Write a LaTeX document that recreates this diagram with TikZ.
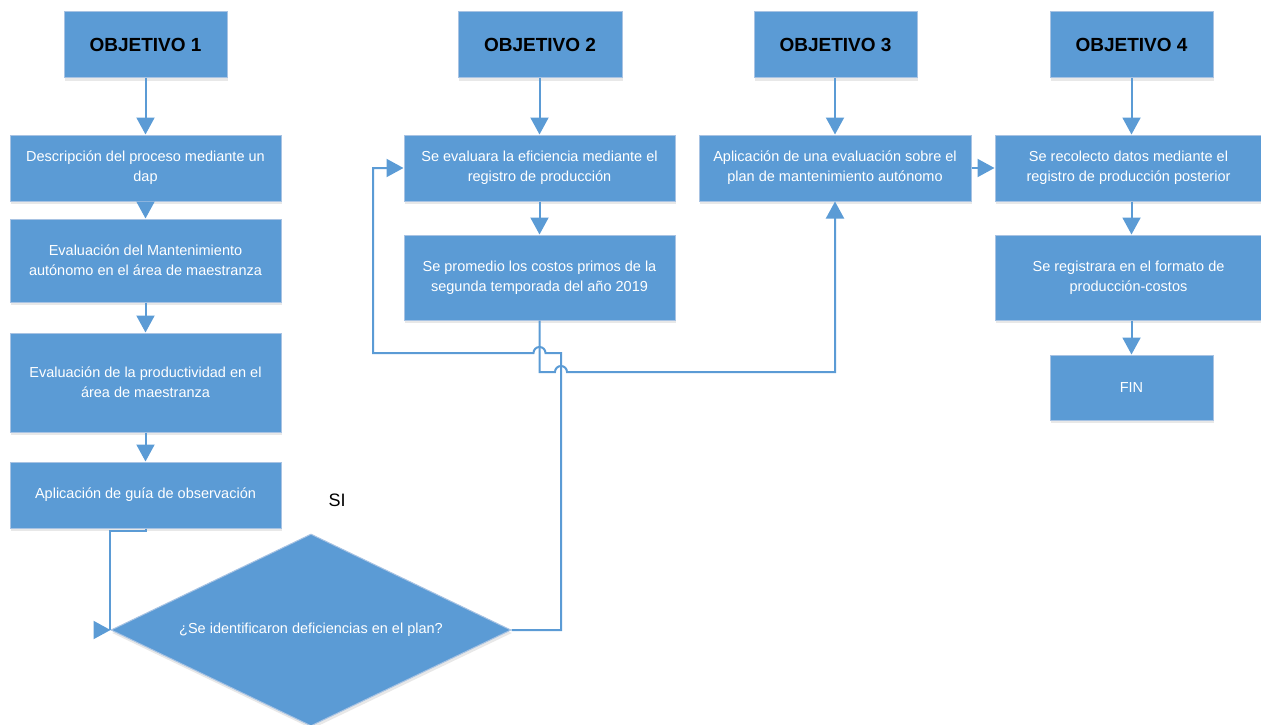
\documentclass[tikz,border=0pt]{standalone}
\usepackage{fontspec}
\setmainfont{Liberation Sans}
\usetikzlibrary{arrows.meta,shapes.geometric,shadows}
\definecolor{azul}{HTML}{5B9BD5}
\definecolor{borde}{HTML}{A8C3E3}

\begin{document}
\begin{tikzpicture}[x=1pt,y=1pt,
    caja/.style={rectangle,fill=azul,draw=borde,line width=1pt,text=white,align=center,
        inner sep=2pt,font=\fontsize{14.5}{20}\selectfont,
        drop shadow={opacity=0.18,shadow xshift=1pt,shadow yshift=-3pt}},
    titulo/.style={caja,text=black,font=\fontsize{19}{22}\selectfont\bfseries},
    flecha/.style={draw=azul,line width=2pt,-{Triangle[width=18pt,length=17pt]}},
    linea/.style={draw=azul,line width=2pt}]
    \useasboundingbox (0,0) rectangle (1261,-725);

    % Dibuja los objetivos
    \node[titulo,minimum width=163,minimum height=66] (o1) at (145.5,-45) {OBJETIVO 1};
    \node[titulo,minimum width=164,minimum height=66] (o2) at (540,-45) {OBJETIVO 2};
    \node[titulo,minimum width=163,minimum height=66] (o3) at (835.5,-45) {OBJETIVO 3};
    \node[titulo,minimum width=163,minimum height=66] (o4) at (1131.5,-45) {OBJETIVO 4};

    % Dibuja las cajas del objetivo 1
    \node[caja,minimum width=271,minimum height=66] (d1) at (145.5,-168) {Descripción del proceso mediante un\\dap};
    \node[caja,minimum width=271,minimum height=83] (d2) at (145.5,-260.5) {Evaluación del Mantenimiento\\autónomo en el área de maestranza};
    \node[caja,minimum width=271,minimum height=99] (d3) at (145.5,-382.5) {Evaluación de la productividad en el\\área de maestranza};
    \node[caja,minimum width=271,minimum height=66] (d4) at (145.5,-495) {Aplicación de guía de observación};
    \node[caja,diamond,minimum width=400,minimum height=192,aspect=2.08,inner sep=0pt] (dec) at (311,-630) {¿Se identificaron deficiencias en el plan?};
    \node[font=\fontsize{18}{20}\selectfont] (si) at (337,-500) {SI};

    % Dibuja las cajas de los objetivos 2, 3 y 4
    \node[caja,minimum width=271,minimum height=66] (e1) at (539.5,-168) {Se evaluara la eficiencia mediante el\\registro de producción};
    \node[caja,minimum width=271,minimum height=85] (e2) at (539.5,-277.5) {Se promedio los costos primos de la\\segunda temporada del año 2019};
    \node[caja,minimum width=272,minimum height=66] (f1) at (835,-168) {Aplicación de una evaluación sobre el\\plan de mantenimiento autónomo};
    \node[caja,minimum width=267,minimum height=66] (g1) at (1128.5,-168) {Se recolecto datos mediante el\\registro de producción posterior};
    \node[caja,minimum width=267,minimum height=85] (g2) at (1128.5,-277.5) {Se registrara en el formato de\\producción-costos};
    \node[caja,minimum width=163,minimum height=65] (fin) at (1131.5,-387.5) {FIN};

    % Dibuja las flechas
    \draw[flecha] (o1) -- (d1);
    \draw[flecha] (d1) -- (d2);
    \draw[flecha] (d2) -- (d3);
    \draw[flecha] (d3) -- (d4);
    \draw[flecha] (e1.south |- o2.south) -- (e1.north);
    \draw[flecha] (e1) -- (e2);
    \draw[flecha] (f1.south |- o3.south) -- (f1.north);
    \draw[flecha] (f1) -- (g1);
    \draw[flecha] (o4.south) -- (o4.south |- g1.north);
    \draw[flecha] (g1.south -| o4.south) -- (g2.north -| o4.south);
    \draw[flecha] (g2.south -| fin.north) -- (fin);

    % Dibuja los lazos
    \coordinate (codo) at (110,-630);
    \coordinate (punta) at (95,-630);
    \draw[linea] (d4.south) -- ++(0,-2) -| (codo);
    \draw[flecha] (punta) -- (dec.west);
    \draw[flecha] (dec.east) -| (561,-353) -- (545.5,-353) arc[start angle=0,end angle=180,radius=6] -- (373,-353) |- (e1.west);
    \draw[flecha] (e2.south) |- (555,-372) arc[start angle=180,end angle=0,radius=6] -| (f1.south);
\end{tikzpicture}
\end{document}
